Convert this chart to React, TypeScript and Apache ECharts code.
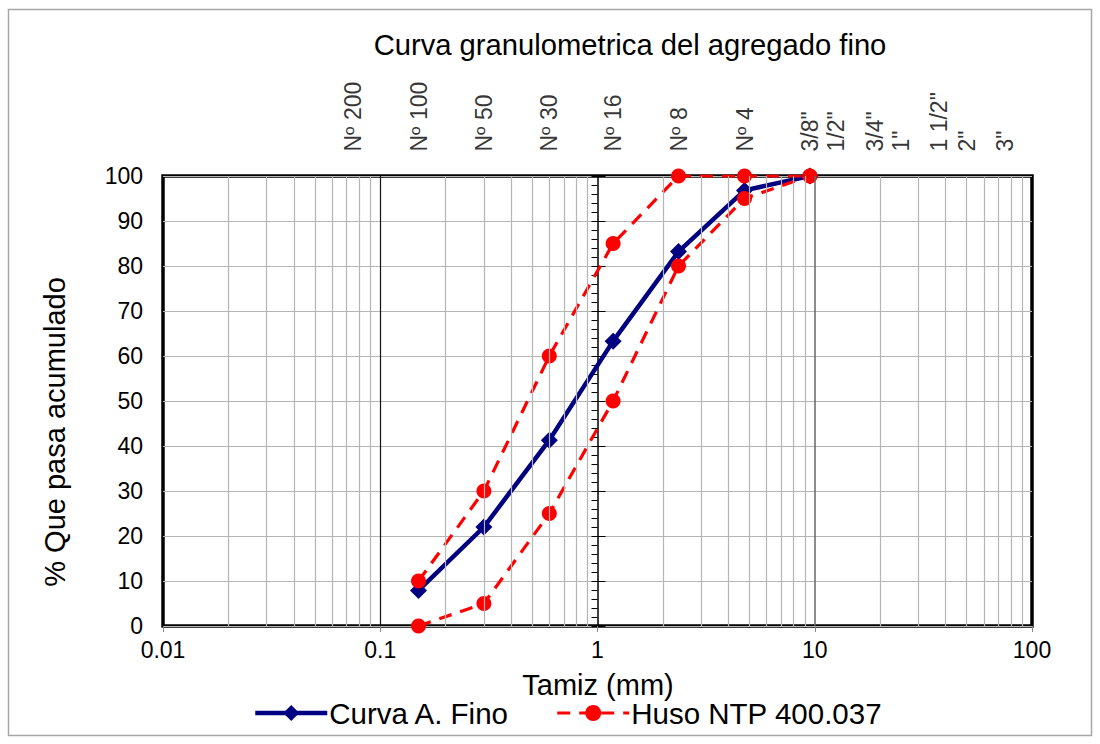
import React, { useEffect, useRef } from "react";
import * as echarts from "echarts";

// Sieve openings (mm) and their names, shown along the top of the plot
const sieveSizes = [0.075, 0.15, 0.3, 0.6, 1.18, 2.36, 4.75, 9.5, 12.5, 19, 25, 37.5, 50, 75];
const sieveLabels = ["Nº 200", "Nº 100", "Nº 50", "Nº 30", "Nº 16", "Nº 8", "Nº 4", '3/8"', '1/2"', '3/4"', '1"', '1 1/2"', '2"', '3"'];

// Grading curve of the fine aggregate (% passing)
const curveSizes = [0.15, 0.3, 0.6, 1.18, 2.36, 4.75, 9.5];
const curvePassing = [7.9, 22.0, 41.3, 63.3, 83.2, 96.8, 100];

// NTP 400.037 grading limits
const husoSizes = [0.15, 0.3, 0.6, 1.18, 2.36, 4.75, 9.5];
const husoUpper = [10, 30, 60, 85, 100, 100, 100];
const husoLower = [0, 5, 25, 50, 80, 95, 100];

const yTicks = [0, 10, 20, 30, 40, 50, 60, 70, 80, 90, 100];

const FONT = "'Liberation Sans', Arial, Helvetica, sans-serif";

// Minor log gridlines (2..9 of each decade) and decade lines
const decades = [0.01, 0.1, 1, 10];
const minorLines: number[] = [];
decades.forEach((d) => {
  for (let m = 2; m <= 9; m++) minorLines.push(+(d * m).toPrecision(6));
});

export default function App() {
  const ref = useRef<HTMLDivElement>(null);

  useEffect(() => {
    const chart = echarts.init(ref.current!, null, { renderer: "svg" });
    const pairs = (xs: number[], ys: number[]) => xs.map((x, i) => [x, ys[i]]);
    const redDash = [13, 9];

    const option: any = {
      animation: false,
      textStyle: { fontFamily: FONT, color: "#000" },
      grid: {
        left: 163,
        right: 68,
        top: 176,
        bottom: 118,
        show: true,
        borderColor: "#000",
        borderWidth: 3.5,
        backgroundColor: "#fff",
      },
      graphic: [
        {
          type: "rect",
          shape: { x: 8.5, y: 9.5, width: 1083, height: 726 },
          style: { fill: "none", stroke: "#a6a6a6", lineWidth: 1.5 },
          z: -10,
          silent: true,
        },
        {
          type: "text",
          x: 630,
          y: 45,
          style: {
            text: "Curva granulometrica del agregado fino",
            fontSize: 29.2,
            fontFamily: FONT,
            fill: "#000",
            align: "center",
            verticalAlign: "middle",
          },
        },
        {
          type: "text",
          x: 55,
          y: 432,
          rotation: Math.PI / 2,
          style: {
            text: "% Que pasa acumulado",
            fontSize: 29,
            fontFamily: FONT,
            fill: "#000",
            align: "center",
            verticalAlign: "middle",
          },
        },
        {
          type: "text",
          x: 598,
          y: 685,
          style: {
            text: "Tamiz (mm)",
            fontSize: 29,
            fontFamily: FONT,
            fill: "#000",
            align: "center",
            verticalAlign: "middle",
          },
        },
      ],
      legend: {
        data: ["Curva A. Fino", "Huso NTP 400.037"],
        left: 248,
        top: 693,
        itemWidth: 72,
        itemHeight: 20,
        itemGap: 46,
        selectedMode: false,
        lineStyle: { width: "inherit" },
        textStyle: { fontSize: 29.5, fontFamily: FONT, color: "#000", padding: [0, 0, 0, -3] },
      },
      xAxis: {
        type: "log",
        logBase: 10,
        min: 0.01,
        max: 100,
        axisLine: { show: false },
        axisTick: { show: true, length: 6, lineStyle: { color: "#888", width: 1 } },
        axisLabel: {
          fontSize: 23,
          fontFamily: FONT,
          color: "#000",
          margin: 12,
          formatter: (v: number) => String(+v.toPrecision(6)),
        },
        splitLine: { show: false },
      },
      yAxis: [
        {
          type: "value",
          min: 0,
          max: 100,
          interval: 10,
          axisLine: { show: false },
          axisTick: { show: false },
          axisLabel: {
            fontSize: 23,
            fontFamily: FONT,
            color: "#000",
            margin: 20,
            customValues: yTicks,
          },
          splitLine: { show: true, lineStyle: { color: "#b5b5b5", width: 1.2 } },
        },
        {
          // vertical axis crossing at 1 mm
          type: "value",
          position: "left",
          offset: -434.5,
          min: 0,
          max: 100,
          interval: 10,
          axisLine: { show: true, lineStyle: { color: "#000", width: 1.5 } },
          axisTick: { show: true, inside: false, length: 6, lineStyle: { color: "#000", width: 1 } },
          minorTick: { show: true, splitNumber: 5, length: 6, lineStyle: { color: "#000", width: 1 } },
          axisLabel: { show: false },
          splitLine: { show: false },
        },
        {
          type: "value",
          position: "left",
          offset: -434.5,
          min: 0,
          max: 100,
          interval: 10,
          axisLine: { show: false },
          axisTick: { show: true, inside: true, length: 8, lineStyle: { color: "#000", width: 1 } },
          axisLabel: { show: false },
          splitLine: { show: false },
        },
      ],
      series: [
        {
          name: "grid",
          type: "line",
          data: [],
          silent: true,
          z: 1,
          markLine: {
            silent: true,
            symbol: "none",
            label: { show: false },
            animation: false,
            data: [
              ...minorLines.map((v) => ({ xAxis: v, lineStyle: { color: "#b5b5b5", width: 1.2, type: "solid" } })),
              { xAxis: 0.1, lineStyle: { color: "#111", width: 1.2, type: "solid" } },
              { xAxis: 10, lineStyle: { color: "#666", width: 1.5, type: "solid" } },
            ],
          },
        },
        {
          name: "Curva A. Fino",
          type: "line",
          data: pairs(curveSizes, curvePassing),
          symbol: "diamond",
          symbolSize: 17,
          z: 3,
          lineStyle: { color: "#000080", width: 4.5 },
          itemStyle: { color: "#000080" },
        },
        {
          name: "Huso NTP 400.037",
          type: "line",
          data: pairs(husoSizes, husoUpper),
          symbol: "circle",
          symbolSize: 15,
          z: 4,
          lineStyle: { color: "#ff0000", width: 3.2, type: redDash },
          itemStyle: { color: "#ff0000" },
        },
        {
          name: "Huso NTP 400.037",
          type: "line",
          data: pairs(husoSizes, husoLower),
          symbol: "circle",
          symbolSize: 15,
          z: 4,
          lineStyle: { color: "#ff0000", width: 3.2, type: redDash },
          itemStyle: { color: "#ff0000" },
        },
        {
          name: "sieves",
          type: "scatter",
          data: sieveSizes.map((s, i) => ({ value: [s, 100], name: sieveLabels[i] })),
          symbolSize: 1,
          silent: true,
          clip: false,
          itemStyle: { color: "transparent" },
          label: {
            show: true,
            position: "top",
            distance: 24,
            rotate: 90,
            align: "left",
            verticalAlign: "middle",
            fontSize: 23,
            fontFamily: FONT,
            color: "#000",
            formatter: (p: any) => p.name,
          },
        },
      ],
    };

    chart.setOption(option);
    return () => chart.dispose();
  }, []);

  return (
    <div
      ref={ref}
      style={{ position: "absolute", left: 0, top: 0, width: 1100, height: 744, background: "#fff" }}
    />
  );
}
